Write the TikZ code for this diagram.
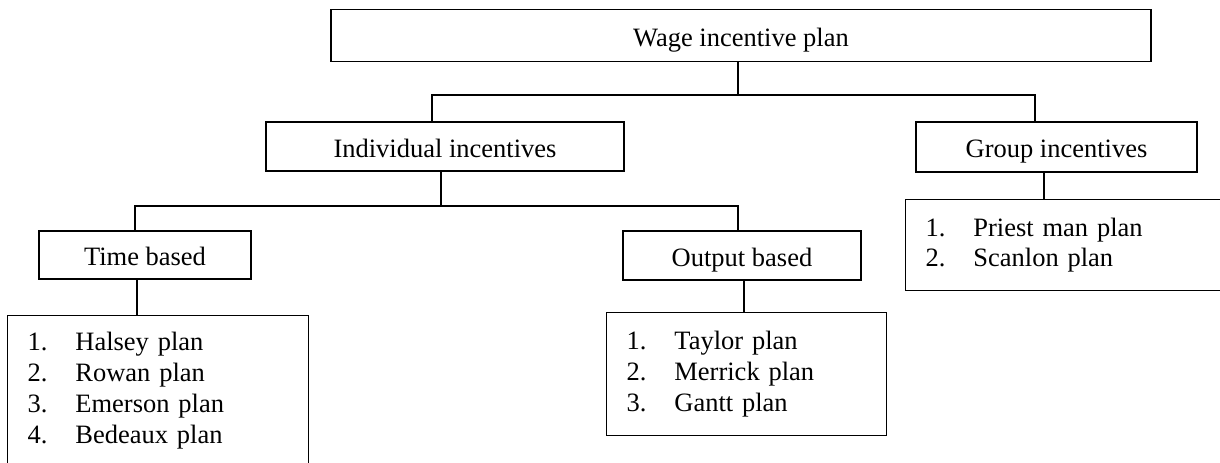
\documentclass[tikz,border=0pt]{standalone}
\usepackage{fontspec}
\setmainfont{Liberation Serif}
\usepackage{tikz}
\usetikzlibrary{positioning,calc}

\newcommand{\planitem}[2]{\makebox[21.7pt][l]{#1}#2}

\begin{document}
\begin{tikzpicture}[
    x=0.453pt, y=-0.453pt,
    font=\fontsize{12}{14}\selectfont,
    box/.style={rectangle, draw=black, line width=0.6pt, inner sep=0pt, text height=11pt, text depth=1.3pt, align=center},
    listbox/.style={rectangle, draw=black, line width=0.6pt, anchor=north west, inner xsep=9pt, inner ysep=0pt, align=left},
    link/.style={line width=0.6pt}
]
\useasboundingbox (0,0) rectangle (1220,462);
\clip (0,0) rectangle (1220,462);

% Top layer
\node[box, minimum width=371.5pt, minimum height=23.6pt] (wage) at (741,35.5) {Wage incentive plan};

% Second layer
\node[box, minimum width=162.2pt, minimum height=22.2pt] (indiv) at (445,146.5) {Individual incentives};
\node[box, minimum width=127.3pt, minimum height=22.7pt] (group) at (1056.5,147) {Group incentives};

% Third layer
\node[box, minimum width=96pt, minimum height=21.7pt] (time) at (145,255) {Time based};
\node[box, minimum width=107.8pt, minimum height=22.2pt] (output) at (742,255.5) {Output based};

% Plan lists
\node[listbox, minimum width=136.4pt, minimum height=67.95pt, text width=118.4pt] (timelist) at (7,315)
    {\planitem{1.}{Halsey plan}\\ \planitem{2.}{Rowan plan}\\ \planitem{3.}{Emerson plan}\\ \planitem{4.}{Bedeaux plan}};
\node[listbox, minimum width=126.8pt, minimum height=55.7pt, text width=108.8pt] (outlist) at (606,312)
    {\planitem{1.}{Taylor plan}\\ \planitem{2.}{Merrick plan}\\ \planitem{3.}{Gantt plan}};
\node[listbox, minimum width=147.2pt, minimum height=41.2pt, text width=129.2pt] (grouplist) at (905,199)
    {\planitem{1.}{Priest man plan}\\ \planitem{2.}{Scanlon plan}};

% Junctions
\coordinate (wj) at (738,95);
\coordinate (iL) at (432,95);
\coordinate (iR) at (1035,95);
\coordinate (ij) at (441,206);
\coordinate (tL) at (135,206);
\coordinate (tR) at (738,206);
\coordinate (tx) at (137,300);
\coordinate (ox) at (744,300);
\coordinate (gx) at (1044,190);

% Lines
\draw[link] (wage.south -| wj) -- (wj);
\draw[link] (indiv.north -| iL) |- (iR) -- (group.north -| iR);
\draw[link] (indiv.south -| ij) -- (ij);
\draw[link] (time.north -| tL) |- (tR) -- (output.north -| tR);
\draw[link] (time.south -| tx) -- (timelist.north -| tx);
\draw[link] (output.south -| ox) -- (outlist.north -| ox);
\draw[link] (group.south -| gx) -- (grouplist.north -| gx);

\end{tikzpicture}
\end{document}
